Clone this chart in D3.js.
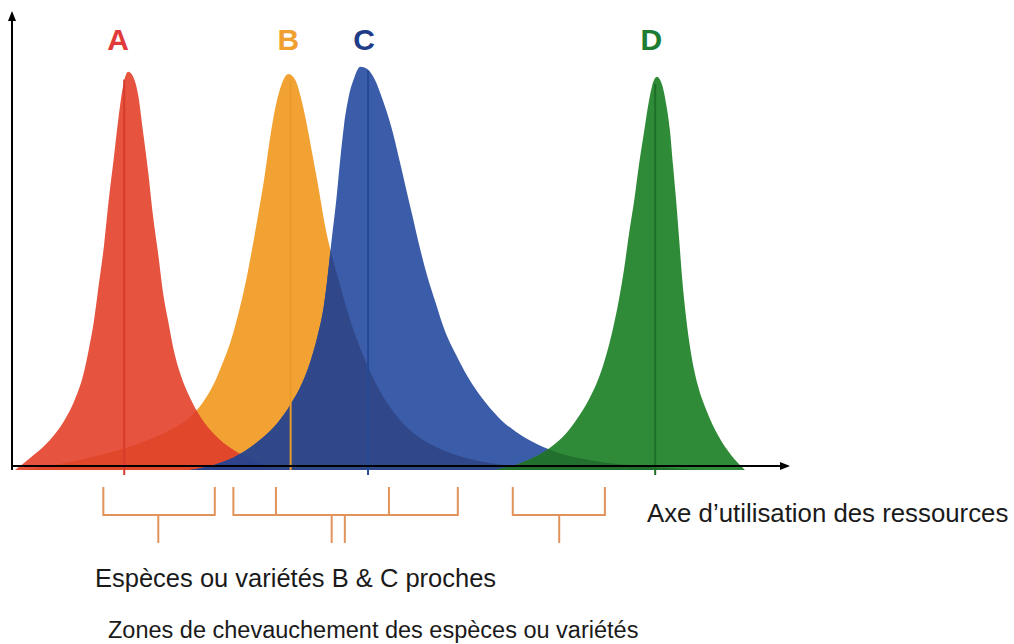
<!DOCTYPE html>
<html>
<head>
<meta charset="utf-8">
<script src="https://cdn.jsdelivr.net/npm/d3@7"></script>
<style>
  html, body { margin: 0; padding: 0; background: #ffffff; }
  svg { display: block; font-family: "Liberation Sans", Arial, sans-serif; }
</style>
</head>
<body>
<svg id="chart" width="1014" height="644"></svg>
<script>
// ---------- DATA (resource axis 0-100, niche density 0-100) ----------
const species = ["A", "B", "C", "D"];
const speciesColors = ["#E6533F", "#F2A233", "#3B5CA8", "#2F8B37"];
const meanLineColors = ["#D63B2E", "#E99A2A", "#244A97", "#1C6F27"];
const labelColors = ["#E03A3A", "#F0A030", "#1F3C88", "#1E7B32"];

const curveA = [[0.4,0],[2.3,2.6],[4.9,6.6],[6.8,11.0],[8.1,15.4],[9.2,20.9],[9.9,26.4],[10.6,33.0],[11.2,40.7],[11.9,49.6],[12.5,59.5],[13.2,69.4],[13.8,78.2],[14.3,84.1],[15.0,87.7],[15.6,86.8],[16.3,82.6],[16.9,74.9],[17.6,65.6],[18.2,56.2],[18.9,47.4],[19.5,39.2],[20.2,32.6],[20.9,26.4],[21.8,20.9],[23.0,15.9],[24.4,11.5],[26.2,7.7],[28.6,4.4],[31.4,2.0],[34.6,0]];
const curveB = [[1.7,0],[6.2,1.3],[11.4,3.3],[16.5,5.9],[20.4,8.8],[23.0,11.7],[24.7,15.0],[26.0,18.7],[27.1,23.1],[28.3,28.6],[29.3,34.8],[30.2,41.4],[31.0,48.5],[31.8,56.2],[32.6,64.3],[33.3,72.7],[34.1,80.4],[34.8,84.8],[35.7,87.2],[36.6,85.9],[37.3,82.2],[38.1,76.0],[38.9,68.7],[39.7,61.2],[40.4,54.2],[41.3,47.4],[42.4,40.7],[43.4,34.6],[44.6,28.6],[45.9,23.1],[47.3,18.1],[49.1,13.2],[51.4,8.8],[54.7,5.1],[59.2,2.4],[64.3,0.9],[68.9,0]];
const curveC = [[23.0,0],[25.6,0.9],[27.9,2.2],[30.1,4.2],[32.3,7.0],[34.4,10.6],[36.0,14.5],[37.5,19.2],[38.6,24.2],[39.5,29.7],[40.3,36.3],[40.8,43.0],[41.3,50.7],[41.9,59.5],[42.4,68.3],[42.9,76.0],[43.5,82.2],[44.2,86.3],[45.0,88.8],[45.9,88.3],[46.9,85.9],[47.9,81.5],[49.0,75.6],[49.9,69.4],[50.8,62.8],[51.7,56.2],[52.6,49.6],[53.6,43.0],[54.7,37.0],[55.9,30.8],[57.4,25.3],[58.9,20.5],[60.7,15.9],[62.8,11.7],[65.1,8.4],[67.8,5.7],[71.1,3.5],[75.3,2.0],[81.1,0.9],[88.9,0]];
const curveD = [[62.4,0],[65.0,1.1],[67.6,2.9],[69.8,5.3],[71.6,8.1],[73.1,11.5],[74.5,15.4],[75.7,19.8],[76.7,24.9],[77.6,30.8],[78.4,37.4],[79.1,44.5],[79.7,51.8],[80.4,59.5],[81.0,67.2],[81.7,74.9],[82.2,80.4],[82.7,84.6],[83.3,86.6],[84.0,84.8],[84.5,80.8],[85.0,74.9],[85.4,67.2],[85.8,59.5],[86.2,50.7],[86.6,41.9],[87.1,33.5],[87.7,26.0],[88.6,18.7],[89.8,12.8],[91.2,7.7],[92.9,3.3],[94.7,0]];
const curves = [curveA, curveB, curveC, curveD];

const meanPositions = [14.5, 36.0, 46.0, 83.1];
const meanTops = [86.0, 86.0, 88.0, 85.0];
const labelPositions = [13.7, 35.7, 45.5, 82.6];
const labelLevel = 92.5;

// overlap zones: [under-index, over-index, colour]
const overlaps = [[1, 0, "#E1472B"], [1, 2, "#30488A"], [0, 2, "#2F438C"], [2, 3, "#22702E"]];

// brackets: [left, right], inner ticks, stems
const bracketSpans = [[11.8, 26.2], [28.6, 57.6], [64.7, 76.6]];
const bracketInnerTicks = [[], [34.1, 48.7], []];
const bracketStems = [[18.9], [41.3, 43.0], [70.7]];
const bracketColor = "#E1935A";

const axisTitle = "Axe d\u2019utilisation des ressources";
const noteLines = ["Esp\u00e8ces ou vari\u00e9t\u00e9s B & C proches", "Zones de chevauchement des esp\u00e8ces ou vari\u00e9t\u00e9s"];

// ---------- DRAW ----------
const svg = d3.select("#chart");
const x = d3.scaleLinear().domain([0, 100]).range([12, 786]);
const y = d3.scaleLinear().domain([0, 100]).range([470, 16]);

const area = d3.area()
  .x(d => x(d[0]))
  .y0(y(0))
  .y1(d => y(d[1]))
  .curve(d3.curveMonotoneX);

const defs = svg.append("defs");
curves.forEach((c, i) => {
  defs.append("clipPath").attr("id", "clip" + i)
    .append("path").attr("d", area(c));
});
const mk = defs.append("marker").attr("id", "arrow")
  .attr("viewBox", "0 0 10 10").attr("refX", 8).attr("refY", 5)
  .attr("markerWidth", 5).attr("markerHeight", 5).attr("orient", "auto-start-reverse");
mk.append("path").attr("d", "M0,1 L10,5 L0,9 Z").attr("fill", "#000");

const g = svg.append("g");
// layer order: B, A, C, D
const order = [1, 0, 2, 3];
order.forEach(i => {
  g.append("path").attr("d", area(curves[i])).attr("fill", speciesColors[i]);
  overlaps.filter(o => o[1] === i).forEach(o => {
    g.append("path").attr("d", area(curves[i]))
      .attr("clip-path", "url(#clip" + o[0] + ")")
      .attr("fill", o[2]);
  });
});

// mean lines
species.forEach((s, i) => {
  g.append("line")
    .attr("x1", x(meanPositions[i])).attr("x2", x(meanPositions[i]))
    .attr("y1", y(meanTops[i])).attr("y2", y(0) + (i === 1 ? 0 : 5))
    .attr("stroke", meanLineColors[i]).attr("stroke-width", 2);
});

// axes
const axisY = y(0) - 4;
svg.append("line").attr("x1", x(0)).attr("x2", x(0)).attr("y1", y(0)).attr("y2", 13)
  .attr("stroke", "#000").attr("stroke-width", 2).attr("marker-end", "url(#arrow)");
svg.append("line").attr("x1", x(0)).attr("x2", x(100) + 2).attr("y1", axisY).attr("y2", axisY)
  .attr("stroke", "#000").attr("stroke-width", 2).attr("marker-end", "url(#arrow)");

// species labels
species.forEach((s, i) => {
  svg.append("text").attr("x", x(labelPositions[i])).attr("y", y(labelLevel))
    .attr("text-anchor", "middle").attr("font-size", 30).attr("font-weight", "bold")
    .attr("fill", labelColors[i]).text(s);
});

// brackets
const bTop = y(0) + 17, bMid = y(0) + 45, bBot = y(0) + 73;
const bg = svg.append("g").attr("stroke", bracketColor).attr("stroke-width", 2).attr("fill", "none");
bracketSpans.forEach((sp, i) => {
  bg.append("path").attr("d",
    `M${x(sp[0])},${bTop} L${x(sp[0])},${bMid} L${x(sp[1])},${bMid} L${x(sp[1])},${bTop}`);
  bracketInnerTicks[i].forEach(t => {
    bg.append("line").attr("x1", x(t)).attr("x2", x(t)).attr("y1", bTop).attr("y2", bMid);
  });
  bracketStems[i].forEach(t => {
    bg.append("line").attr("x1", x(t)).attr("x2", x(t)).attr("y1", bMid).attr("y2", bBot);
  });
});

// texts
svg.append("text").attr("x", 647).attr("y", 522).attr("font-size", 25.8).attr("fill", "#1a1a1a").text(axisTitle);
svg.append("text").attr("x", 95).attr("y", 587).attr("font-size", 25.5).attr("fill", "#1a1a1a").text(noteLines[0]);
svg.append("text").attr("x", 108).attr("y", 638).attr("font-size", 23.5).attr("fill", "#1a1a1a").text(noteLines[1]);
</script>
</body>
</html>
